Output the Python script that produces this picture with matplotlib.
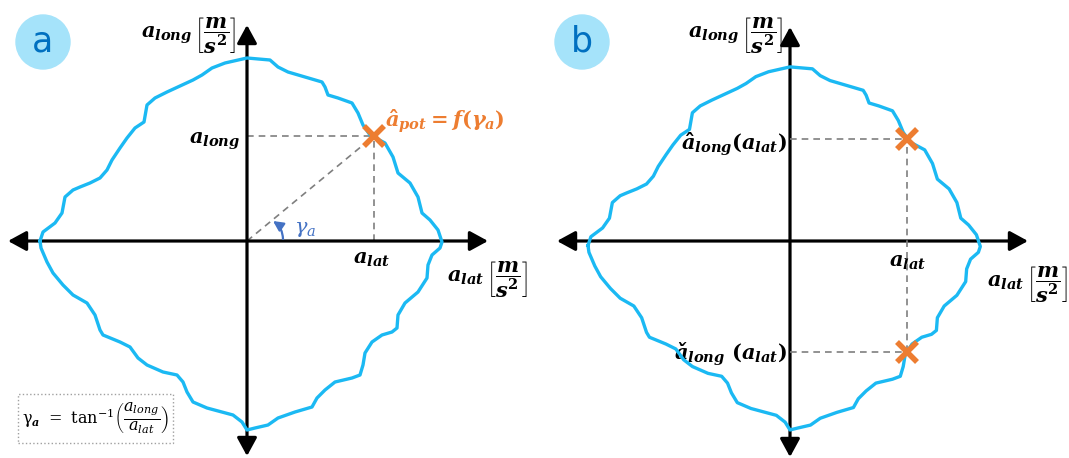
import matplotlib
matplotlib.use('Agg')
import matplotlib.pyplot as plt
from matplotlib.patches import Circle, Rectangle

plt.rcParams['mathtext.fontset'] = 'custom'
plt.rcParams['mathtext.it'] = 'DejaVu Serif:italic:bold'
plt.rcParams['mathtext.rm'] = 'DejaVu Serif:bold'
plt.rcParams['mathtext.bf'] = 'DejaVu Serif:bold'
plt.rcParams['mathtext.sf'] = 'DejaVu Serif'
plt.rcParams['mathtext.cal'] = 'DejaVu Serif:italic'

# g-g envelope, traced clockwise from the left end (a_lat, a_long)
env_lat = [-207, -204, -192, -185, -182, -174, -167, -157, -147, -140, -135, -127, -120,
           -112, -103, -100, -92, -80, -67, -54, -45, -35, -22, 0, 23, 31, 41, 58, 75, 78,
           81, 91, 105, 111, 116, 123, 138, 146, 151, 163, 171, 175, 183, 191, 195, 193,
           185, 181, 180, 171, 158, 151, 150, 145, 135, 125, 118, 116, 113, 105, 88, 78,
           70, 65, 48, 31, 21, 8, 0, -5, -14, -40, -54, -60, -64, -70, -84, -100, -109,
           -117, -127, -144, -147, -152, -160, -174, -184, -194, -200, -206, -207]
env_long = [0, 9, 18, 28, 44, 51, 54, 58, 63, 71, 81, 93, 103, 113, 119, 136, 143, 149,
            155, 161, 166, 173, 178, 183, 181, 174, 169, 164, 159, 154, 146, 143, 138, 128,
            116, 106, 98, 84, 68, 58, 44, 28, 21, 11, -1, -7, -14, -24, -37, -51, -62, -74,
            -87, -91, -94, -101, -112, -124, -134, -137, -141, -149, -157, -166, -171, -177,
            -184, -187, -189, -181, -174, -167, -161, -151, -141, -134, -131, -124, -117,
            -106, -101, -94, -89, -74, -62, -54, -44, -32, -21, -7, 0]

# panel a: potential point on the envelope
pot_lat, pot_long = 127, 105
# panel b: upper and lower envelope at one a_lat
b_lat = 120
b_long_max = 109
b_long_min = -109

W, H = 1069, 458
BLUE = '#1BB9F3'
ORANGE = '#ED7D31'
GREY = '#7F7F7F'

fig = plt.figure(figsize=(W / 100, H / 100), dpi=100)


def panel_axes(ox, oy, scale=1.0):
    ax = fig.add_axes([0, 0, 1, 1])
    ax.set_xlim(-ox / scale, (W - ox) / scale)
    ax.set_ylim(-(H - oy) / scale, oy / scale)
    ax.axis('off')
    ax.patch.set_alpha(0)
    return ax


def draw_cross(ax, left, right, bottom, top):
    style = dict(arrowstyle='<|-|>,head_length=0.55,head_width=0.3', color='black',
                 lw=2.3, shrinkA=0, shrinkB=0, mutation_scale=20)
    ax.annotate('', xy=(right, 0), xytext=(left, 0), arrowprops=style)
    ax.annotate('', xy=(0, top), xytext=(0, bottom), arrowprops=style)


def badge(ax, x, y, letter):
    ax.add_patch(Circle((x, y), 27, color='#A5E3FA', zorder=1))
    ax.text(x, y + 1, letter, color='#0070C0', fontsize=25, ha='center', va='center')


dash = dict(color=GREY, lw=1.2, ls=(0, (4, 3)))
fs = 15
unit = r'\,\left[\dfrac{m}{s^2}\right]$'

# ---- panel a ----
ax_a = panel_axes(247, 241)
draw_cross(ax_a, -239, 241, -215, 216)
ax_a.plot(env_lat, env_long, color=BLUE, lw=2.4, solid_joinstyle='round', zorder=3)
ax_a.plot([0, pot_lat], [pot_long, pot_long], **dash)
ax_a.plot([pot_lat, pot_lat], [0, pot_long], **dash)
ax_a.plot([0, pot_lat], [0, pot_long], **dash)
ax_a.plot(pot_lat, pot_long, 'x', color=ORANGE, ms=15, mew=4, zorder=4)
badge(ax_a, -204, 199, 'a')
ax_a.text(-11, 206, r'$a_{long}' + unit, fontsize=fs, ha='right', va='center')
ax_a.text(-7, 100, r'$a_{long}$', fontsize=fs, ha='right', va='center')
ax_a.text(125, -18, r'$a_{lat}$', fontsize=fs, ha='center', va='center')
ax_a.text(200, -38, r'$a_{lat}' + unit, fontsize=fs, ha='left', va='center')
ax_a.text(138, 119, r'$\hat{a}_{pot} = f(\gamma_a)$', fontsize=fs, color=ORANGE,
          ha='left', va='center')
ax_a.text(58, 12, r'$\mathcal{\gamma_a}$', fontsize=fs, color='#4472C4', ha='center', va='center')
ax_a.annotate('', xy=(26, 20), xytext=(36, 2),
              arrowprops=dict(arrowstyle='-|>,head_length=0.5,head_width=0.25',
                              connectionstyle='arc3,rad=0.25', color='#4472C4', lw=1.6,
                              shrinkA=0, shrinkB=0, mutation_scale=12))
ax_a.add_patch(Rectangle((-229, -202), 155, 49, fill=False, ec='#A0A0A0', ls=':', lw=1.0))
ax_a.text(-151.5, -177.5,
          r'$\mathsf{\gamma}_{\mathit{a}}\mathsf{\ =\ tan}^{\mathsf{-1}}'
          r'\left(\dfrac{\mathcal{a_{long}}}{\mathcal{a_{lat}}}\right)$',
          fontsize=11.5, ha='center', va='center')

# ---- panel b ----
ax_b = panel_axes(790, 241)
draw_cross(ax_b, -233, 238, -216, 214)
badge(ax_b, -208, 199, 'b')
ax_b.text(-7, 206, r'$a_{long}' + unit, fontsize=fs, ha='right', va='center')
ax_b.text(-3, 96, r'$\hat{a}_{long}(a_{lat})$', fontsize=fs, ha='right', va='center')
ax_b.text(-3, -113, r'$ǎ_{long}\ (a_{lat})$', fontsize=fs, ha='right', va='center')
ax_b.text(197, -43, r'$a_{lat}' + unit, fontsize=fs, ha='left', va='center')

env_b = panel_axes(790, 245.5, scale=0.976)
env_b.plot(env_lat, env_long, color=BLUE, lw=2.4, solid_joinstyle='round', zorder=3)
env_b.plot([0, b_lat], [b_long_max, b_long_max], **dash)
env_b.plot([0, b_lat], [b_long_min, b_long_min], **dash)
env_b.plot([b_lat, b_lat], [b_long_min, b_long_max], **dash)
env_b.plot([b_lat, b_lat], [b_long_min, b_long_max], 'x', color=ORANGE, ms=15, mew=4, zorder=4)
ax_b.text(118, -21, r'$a_{lat}$', fontsize=fs, ha='center', va='center', zorder=5,
          bbox=dict(fc='white', ec='none', pad=1))

fig.savefig('out.png', dpi=100)
